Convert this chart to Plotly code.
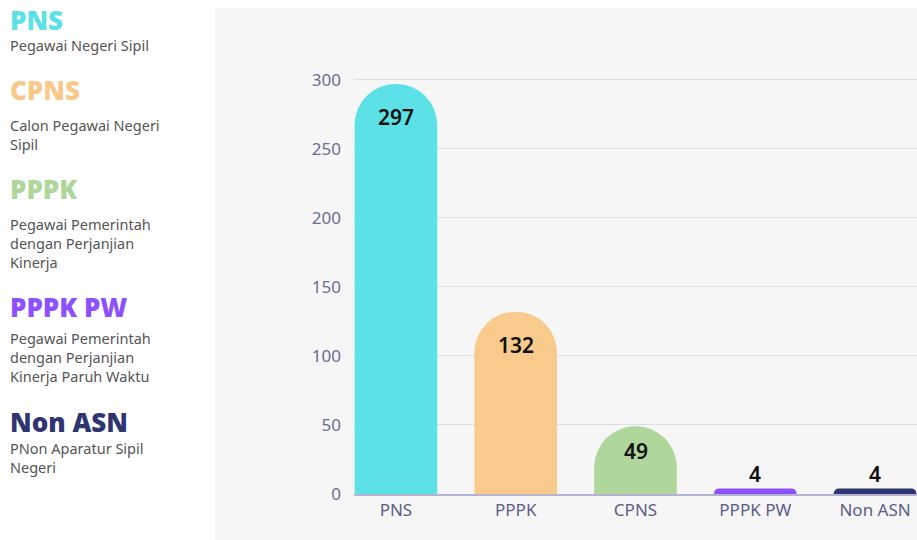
import plotly.graph_objects as go

categories = ["PNS", "PPPK", "CPNS", "PPPK PW", "Non ASN"]
values = [297, 132, 49, 4, 4]
bar_colors = ["#5ce1e6", "#f8cb8d", "#afd69b", "#8c52ff", "#2f3570"]

legend_titles = ["PNS", "CPNS", "PPPK", "PPPK PW", "Non ASN"]
legend_title_colors = ["#5ce1e6", "#f8c98a", "#afd69b", "#8c52ff", "#2f3570"]
legend_descs = [
    ["Pegawai Negeri Sipil"],
    ["Calon Pegawai Negeri", "Sipil"],
    ["Pegawai Pemerintah", "dengan Perjanjian", "Kinerja"],
    ["Pegawai Pemerintah", "dengan Perjanjian", "Kinerja Paruh Waktu"],
    ["PNon Aparatur Sipil", "Negeri"],
]

W, H = 917, 540
PLOT_L, PLOT_R, PLOT_T, PLOT_B = 354, 917, 66, 494   # window pixels
L = PLOT_L
R = W - PLOT_R
T = PLOT_T
B = H - PLOT_B
YMAX = 310

def px_x(px):
    return (px - PLOT_L) / (PLOT_R - PLOT_L)

def px_y(py):
    return (PLOT_B - py) / (PLOT_B - PLOT_T)

fig = go.Figure()
fig.add_trace(go.Bar(
    x=categories, y=values,
    marker=dict(color=bar_colors, cornerradius="50%", line=dict(width=0)),
    hoverinfo="skip",
))

# value labels
for c, v in zip(categories, values):
    if v > 100:
        shift = -33
    elif v > 20:
        shift = -25
    else:
        shift = 14
    fig.add_annotation(x=c, y=v, text=str(v), showarrow=False, yshift=shift,
                       font=dict(family="Noto Sans", size=21, color="#111111", weight=600),
                       xref="x", yref="y")

# gray panel
fig.add_shape(type="rect", xref="paper", yref="paper",
              x0=px_x(215), x1=px_x(930), y0=px_y(545), y1=px_y(8),
              fillcolor="#f6f6f6", line=dict(width=0), layer="below")

# left legend text
title_y = [20, 90, 189, 307, 422]
desc_y0 = [45, 125, 224, 338, 448]
for t, col, ty, descs, dy in zip(legend_titles, legend_title_colors, title_y, legend_descs, desc_y0):
    fig.add_annotation(x=px_x(8), y=px_y(ty), xref="paper", yref="paper", text=t,
                       showarrow=False, xanchor="left", yanchor="middle",
                       font=dict(family="Open Sans", size=26, color=col, weight=800))
    for i, d in enumerate(descs):
        fig.add_annotation(x=px_x(8), y=px_y(dy + 19 * i), xref="paper", yref="paper", text=d,
                           showarrow=False, xanchor="left", yanchor="middle",
                           font=dict(family="Noto Sans", size=14.5, color="#555555"))

fig.update_layout(
    width=W, height=H,
    margin=dict(l=L, r=R, t=T, b=B, pad=0),
    paper_bgcolor="white",
    plot_bgcolor="rgba(0,0,0,0)",
    showlegend=False,
    bargap=0.31,
    xaxis=dict(range=[-0.35, 4.35], showgrid=False, showline=True, linecolor="#b4b4d2",
               linewidth=1.5, tickfont=dict(family="Noto Sans", size=17, color="#5c5c8a"),
               ticks="", fixedrange=True),
    yaxis=dict(range=[0, YMAX], tickvals=[0, 50, 100, 150, 200, 250, 300],
               showgrid=True, gridcolor="#dedee8", gridwidth=1.2, zeroline=False,
               tickfont=dict(family="Noto Sans", size=17, color="#6c6c96"),
               ticklabelstandoff=12, ticks="", fixedrange=True),
)

fig.write_html("out.html", config={"displayModeBar": False},
               post_script="document.body.style.margin='0';document.body.style.overflow='hidden';")
